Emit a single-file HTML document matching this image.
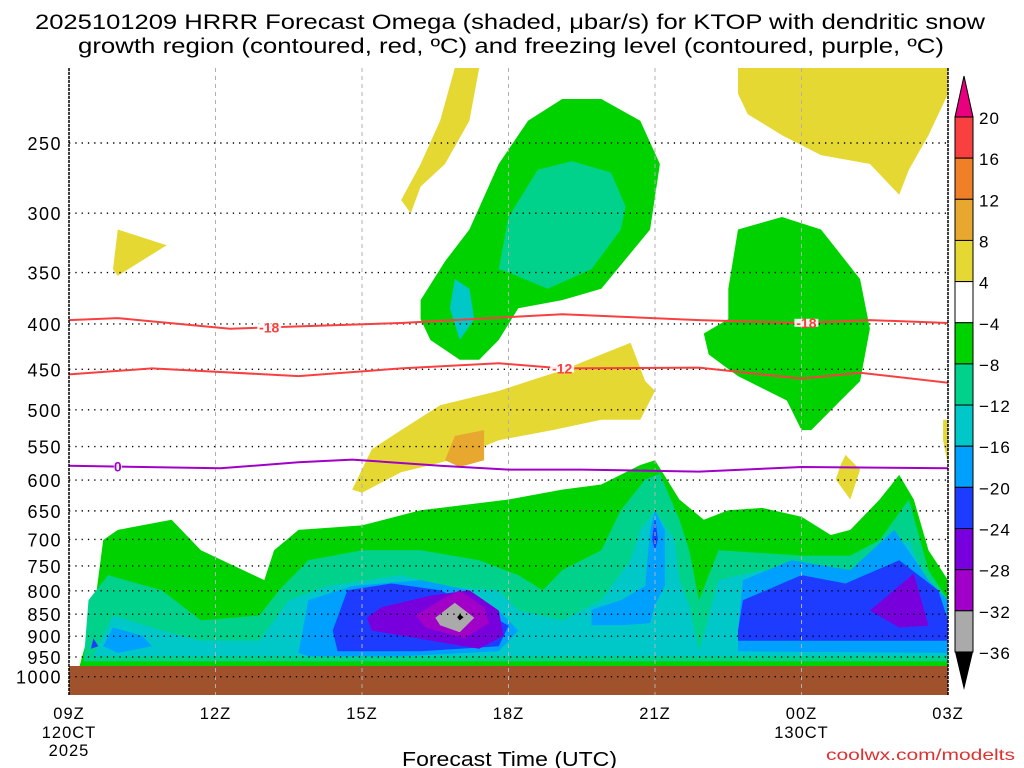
<!DOCTYPE html>
<html><head><meta charset="utf-8"><style>
html,body{margin:0;padding:0;background:#fff}
svg{display:block;font-family:"Liberation Sans","DejaVu Sans",sans-serif}
</style></head><body>
<svg id="chart" width="1024" height="768" viewBox="0 0 1024 768">
<text x="35" y="29" font-size="21" textLength="950" lengthAdjust="spacingAndGlyphs">2025101209 HRRR Forecast Omega (shaded, μbar/s) for KTOP with dendritic snow</text>
<text x="78" y="53" font-size="21" textLength="866" lengthAdjust="spacingAndGlyphs">growth region (contoured, red, ºC) and freezing level (contoured, purple, ºC)</text>
<g id="fills"></g>
<g id="grid"></g>
<g id="lines"></g>
<g id="axes"></g>
<g id="cbar"></g>
<text x="402" y="766" font-size="20" textLength="215" lengthAdjust="spacingAndGlyphs">Forecast Time (UTC)</text>
<text x="826" y="760" font-size="16" fill="#e03030" textLength="189" lengthAdjust="spacingAndGlyphs">coolwx.com/modelts</text>
</svg>
<script>
const hourTicks=[0,3,6,9,12,15,18];
const hourLabels=["09Z","12Z","15Z","18Z","21Z","00Z","03Z"];
const pLevels=[250,300,350,400,450,500,550,600,650,700,750,800,850,900,950,1000];
const cbarLevels=["20","16","12","8","4","-4","-8","-12","-16","-20","-24","-28","-32","-36"];
const cbarColors=["#f84040","#f08028","#e8a830","#e6d832","#ffffff","#00d200","#00d28c","#00c8c8","#00a0ff","#1e3cff","#7800dc","#a000c8","#aaaaaa"];
const yellowTop=[[7.9,200],[8.4,200],[8.2,236],[7.7,264],[7.2,280],[7.0,300],[6.8,290],[7.2,264],[7.6,236]];
const yellowTopRight=[[13.7,200],[18,200],[18,220],[17.6,245],[17.2,268],[17.0,286],[16.4,264],[15.4,258],[14.6,245],[13.9,232],[13.7,220]];
const yellowLeft=[[0.9,347],[1.0,313],[2.0,326],[1.0,353]];
const yellowMid=[[5.8,615],[6.2,554],[6.8,527],[7.6,494],[8.8,476],[10.1,451],[10.9,433],[11.5,420],[11.8,464],[12.0,476],[11.7,513],[10.9,513],[9.9,527],[8.8,541],[7.8,570],[6.8,588],[6.0,620]];
const orangeMid=[[7.7,570],[7.9,535],[8.5,527],[8.5,570],[8.0,580]];
const yellowSmallR=[[15.9,562],[16.2,584],[16.0,631],[15.7,599],[15.8,577]];
const yellowEdge=[[17.9,513],[18,513],[18,577],[17.9,541]];
const greenA=[[7.2,376],[7.7,340],[8.2,313],[8.8,264],[9.4,236],[10.1,223],[10.9,223],[11.7,236],[12.1,264],[11.9,313],[10.9,365],[10.1,376],[9.2,384],[8.8,417],[8.4,439],[8.0,439],[7.4,417],[7.2,395]];
const tealA=[[8.8,347],[9.0,303],[9.6,268],[10.3,262],[11.1,270],[11.4,295],[11.3,313],[10.7,347],[9.8,365],[9.0,350]];
const tealSmall=[[7.9,356],[8.2,365],[8.3,395],[8.0,417],[7.8,384]];
const greenB=[[13.5,365],[13.7,313],[14.6,303],[15.4,313],[16.2,356],[16.4,405],[16.2,464],[15.8,488],[15.2,527],[15.0,527],[14.7,488],[13.7,458],[13.1,433],[13.0,410],[13.5,395]];
const greenLow=[[0.2,980],[0.5,853],[0.7,701],[1.0,683],[2.1,665],[2.7,720],[4.0,778],[4.2,720],[4.7,683],[6.0,675],[7.2,649],[9.0,631],[10.1,615],[10.9,607],[11.7,577],[12.0,570],[12.5,631],[13.0,665],[13.5,649],[14.2,645],[15.0,660],[15.6,692],[16.0,683],[16.6,631],[17.0,592],[17.3,631],[17.6,720],[18,778],[18,980]];
const tealLow=[[0.3,961],[0.4,820],[0.8,768],[1.9,799],[2.7,864],[3.9,853],[4.3,799],[4.9,739],[6.0,720],[7.2,720],[8.4,739],[9.2,768],[9.7,799],[10.1,758],[10.9,720],[11.3,649],[11.8,599],[12.1,590],[12.5,665],[12.7,720],[12.9,820],[13.3,720],[15.0,730],[16.0,730],[16.6,701],[17.2,631],[17.6,758],[18,820],[18,961]];
const cyanLow=[[0.5,948],[0.9,853],[1.9,887],[2.7,911],[3.9,911],[4.5,820],[5.3,790],[6.8,768],[7.6,790],[8.8,799],[9.2,842],[10.1,864],[10.9,820],[11.5,739],[11.7,683],[12.0,649],[12.4,701],[12.5,778],[12.7,831],[12.9,936],[13.3,778],[14.2,758],[15.0,768],[16.0,758],[16.6,739],[17.2,701],[17.7,820],[18,842],[18,948]];
const ltBlueLeft=[[0.7,924],[0.9,880],[1.5,899],[1.7,924],[1.0,940]];
const ltBlueMain=[[4.7,940],[4.9,820],[5.8,790],[7.2,778],[8.2,799],[8.8,842],[9.2,887],[8.8,936],[6.8,948],[4.9,948]];
const ltBlue21=[[10.7,840],[11.3,820],[11.8,790],[11.9,683],[12.0,649],[12.2,683],[12.2,790],[12.0,830],[11.9,870],[11.3,875],[10.7,875]];
const ltBlueRight=[[13.7,887],[13.8,778],[14.8,739],[16.0,758],[16.9,683],[17.6,778],[18,820],[18,940],[13.7,936]];
const blueLeft=[[5.4,887],[5.7,799],[6.6,785],[7.6,799],[8.4,838],[9.0,876],[8.8,924],[7.2,936],[5.5,936]];
const blueRight=[[13.7,887],[13.8,820],[15.0,768],[15.9,785],[17.0,739],[17.8,799],[18,864],[18,911],[13.7,911]];
const blueDotLeft=[[0.5,905],[0.6,924],[0.45,930]];
const blueSpindle=[[12.0,660],[12.06,700],[12.0,720],[11.94,700]];
const purpleMain=[[6.1,858],[6.4,835],[7.4,810],[8.2,799],[8.8,842],[8.9,899],[8.4,930],[6.2,887]];
const purpleRight=[[16.4,842],[17.3,765],[17.6,876],[17.0,880]];
const magentaMain=[[7.1,853],[7.6,820],[8.0,799],[8.5,835],[8.6,870],[8.1,905],[7.3,880]];
const grayMain=[[7.5,858],[7.9,825],[8.3,858],[8.0,891],[7.6,875]];
const blackDot=[[8.0,850],[8.08,857],[8.0,864],[7.95,857]];
const shading=[
 ["#e6d832",yellowTop,"yellow-region-top"],["#e6d832",yellowTopRight,"yellow-region-top-right"],["#e6d832",yellowLeft,"yellow-region-left"],
 ["#e6d832",yellowMid,"yellow-region-mid"],["#e8a830",orangeMid,"orange-region"],["#e6d832",yellowSmallR,"yellow-region-small"],["#e6d832",yellowEdge,"yellow-region-edge"],
 ["#00d200",greenA,"green-region-upper"],["#00d28c",tealA,"teal-region-upper"],["#00c8c8",tealSmall,"cyan-region-upper"],["#00d200",greenB,"green-region-right"],
 ["#00d200",greenLow,"green-region-lower"],["#00d28c",tealLow,"teal-region-lower"],["#00c8c8",cyanLow,"cyan-region-lower"],
 ["#00a0ff",ltBlueLeft,"lightblue-left"],["#00a0ff",ltBlueMain,"lightblue-main"],["#00a0ff",ltBlue21,"lightblue-21z"],["#00a0ff",ltBlueRight,"lightblue-right"],
 ["#1e3cff",blueLeft,"blue-left"],["#1e3cff",blueRight,"blue-right"],["#1e3cff",blueDotLeft,"blue-dot"],["#1e3cff",blueSpindle,"blue-spindle"],
 ["#7800dc",purpleMain,"purple-main"],["#7800dc",purpleRight,"purple-right"],["#a000c8",magentaMain,"magenta-main"],["#aaaaaa",grayMain,"gray-core"],["#000000",blackDot,"black-core"]
];
const line18=[[0,396],[1.0,394],[3.3,405],[6.8,399],[10.1,390],[12.9,396],[15.0,399],[16.4,396],[18,399]];
const line12=[[0,456],[1.7,449],[4.7,458],[6.8,449],[8.8,443],[10.1,449],[12.9,448],[15.0,461],[16.2,454],[18,466]];
const line0=[[0,578],[3.1,582],[4.7,573],[5.8,569],[7.6,578],[9.0,584],[10.5,584],[12.9,587],[15.0,580],[18,582]];
const contourLabels=[["-18",4.1,line18],["-18",15.1,line18],["-12",10.1,line12],["0",1.0,line0]];

const X0=69,X1=948,YT=68,YB=695;
const xs=h=>X0+(X1-X0)*h/18;
const ys=p=>143+385*Math.log(p/250);
const NS="http://www.w3.org/2000/svg";
function mk(parent,tag,attrs){const e=document.createElementNS(NS,tag);for(const k in attrs)e.setAttribute(k,attrs[k]);parent.appendChild(e);return e;}
const clamp=y=>Math.max(YT,Math.min(YB,y));
const fills=document.getElementById('fills');
for(const [c,pts,name] of shading){
 const e=mk(fills,'polygon',{points:pts.map(q=>xs(q[0]).toFixed(1)+','+clamp(ys(q[1])).toFixed(1)).join(' '),fill:c});
 
 
}
const ground=mk(fills,'rect',{x:X0,y:666,width:X1-X0,height:YB-666,fill:'#a0522d'});


const grid=document.getElementById('grid');
for(const h of hourTicks){const e=mk(grid,'line',{x1:xs(h),x2:xs(h),y1:YT,y2:YB,stroke:'#b0b0b0','stroke-dasharray':'4,4','stroke-width':1});
 
 }
for(const p of pLevels){const e=mk(grid,'line',{x1:X0,x2:X1,y1:ys(p),y2:ys(p),stroke:'#000','stroke-dasharray':'1.3,5','stroke-width':1.4});
 
 }
const lines=document.getElementById('lines');
function path(pts){return pts.map((q,i)=>(i?'L':'M')+xs(q[0]).toFixed(1)+','+ys(q[1]).toFixed(1)).join('');}
for(const [pts,c,n] of [[line18,'#f84040','contour-minus18'],[line12,'#f84040','contour-minus12'],[line0,'#a000c8','freezing-level-contour']]){
 const e=mk(lines,'path',{d:path(pts),fill:'none',stroke:c,'stroke-width':2});
 
 }
function interp(pts,h){for(let i=1;i<pts.length;i++){if(h<=pts[i][0]){const a=pts[i-1],b=pts[i],t=(h-a[0])/(b[0]-a[0]);return a[1]+t*(b[1]-a[1]);}}return pts[pts.length-1][1];}
for(const [t,h,pts] of contourLabels){
 const y=ys(interp(pts,h));const col=t==="0"?'#a000c8':'#f84040';
 const w=t.length*8;
 mk(lines,'rect',{x:xs(h)-w/2,y:y-4,width:w,height:8,fill:'#fff',opacity:0.9});
 const e=mk(lines,'text',{x:xs(h),y:y+5,'text-anchor':'middle','font-size':14,'font-weight':'bold',fill:col});
 e.textContent=t;
 
 }
const axes=document.getElementById('axes');
mk(axes,'line',{x1:X0,x2:X0,y1:YT,y2:YB,stroke:'#000','stroke-width':1.5,'stroke-dasharray':'3,1'});
mk(axes,'line',{x1:X1,x2:X1,y1:YT,y2:YB,stroke:'#000','stroke-width':1.5,'stroke-dasharray':'3,1'});
for(const p of pLevels){const e=mk(axes,'text',{x:62,y:ys(p)+7,'text-anchor':'end','font-size':18,'letter-spacing':1.5});
 e.textContent=p;
 
 }
hourTicks.forEach((h,i)=>{const e=mk(axes,'text',{x:xs(h),y:719,'text-anchor':'middle','font-size':16.5,'letter-spacing':1});
 e.textContent=hourLabels[i];
 
 });
for(const [t,x,y] of [["120CT",xs(0),738],["2025",xs(0),756],["130CT",xs(15),738]]){const e=mk(axes,'text',{x:x,y:y,'text-anchor':'middle','font-size':16.5,'letter-spacing':1});
 e.textContent=t;
 
 }
const cb=document.getElementById('cbar');
const cx=955,cw=18,ct=117,seg=41.15;
mk(cb,'polygon',{points:`${cx},${ct} ${cx+cw},${ct} ${cx+cw/2},76`,fill:'#e8007f',stroke:'#000','stroke-width':1});
cbarColors.forEach((c,i)=>{const e=mk(cb,'rect',{x:cx,y:ct+i*seg,width:cw,height:seg,fill:c,stroke:'#000','stroke-width':1});
 
 });
const cbot=ct+cbarColors.length*seg;
mk(cb,'polygon',{points:`${cx},${cbot} ${cx+cw},${cbot} ${cx+cw/2},690`,fill:'#000'});
cbarLevels.forEach((t,i)=>{const e=mk(cb,'text',{x:979,y:ct+i*seg+7,'font-size':17,'letter-spacing':1});
 e.textContent=t.replace('-','−');
 
 });
</script>
</body></html>
